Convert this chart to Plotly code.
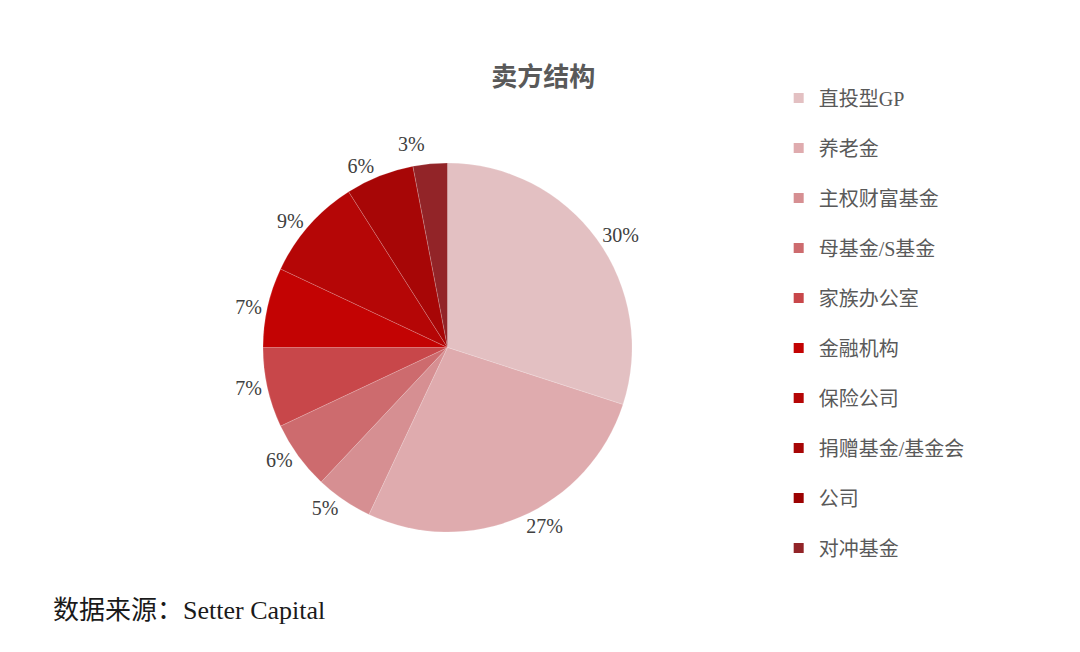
import plotly.graph_objects as go

# seller structure, share in percent (clockwise from 12 o'clock)
categories = ["直投型GP", "养老金", "主权财富基金", "母基金/S基金", "家族办公室",
              "金融机构", "保险公司", "捐赠基金/基金会", "公司", "对冲基金"]
shares = [30, 27, 5, 6, 7, 7, 9, 6, 0, 3]
colors = ["#e3c0c2", "#dfabae", "#d68f92", "#cd6b6e", "#c8474a",
          "#c30303", "#b50606", "#a70606", "#9c0202", "#922428"]

# only slices with a share are drawn; the legend keeps all categories
shown = [i for i, v in enumerate(shares) if v > 0]

fig = go.Figure()

fig.add_trace(go.Pie(
    labels=[categories[i] for i in shown],
    values=[shares[i] for i in shown],
    text=[f"{shares[i]}%" for i in shown],
    textinfo="text",
    textposition="outside",
    sort=False,
    direction="clockwise",
    marker=dict(colors=[colors[i] for i in shown],
                line=dict(color="rgba(255,255,255,0.35)", width=0.5)),
    outsidetextfont=dict(family="Liberation Serif", size=20, color="#404040"),
    domain=dict(x=[0.2361, 0.5778], y=[0.1963, 0.7623]),
    showlegend=False,
    hoverinfo="label+percent",
))

# legend entries drawn as dummy square markers
for name, c in zip(categories, colors):
    fig.add_trace(go.Scatter(
        x=[None], y=[None], mode="markers", name=name, legendgroup=name,
        marker=dict(symbol="square", size=10, color=c),
    ))

fig.update_layout(
    width=1080, height=652,
    margin=dict(l=0, r=0, t=0, b=0),
    paper_bgcolor="white", plot_bgcolor="white",
    title=dict(text="<b>卖方结构</b>", x=0.4956, xanchor="center", y=0.894, yanchor="middle",
               font=dict(family="Noto Sans CJK SC", size=26, color="#595959")),
    xaxis=dict(visible=False), yaxis=dict(visible=False),
    legend=dict(x=0.7136, xanchor="left", y=0.892, yanchor="top",
                font=dict(family="Liberation Serif, Noto Sans CJK SC", size=20, color="#595959"),
                tracegroupgap=21, itemclick=False),
    annotations=[dict(text="数据来源：Setter Capital", x=0.0398, xanchor="left", y=0.0753,
                      yanchor="middle", xref="paper", yref="paper", showarrow=False,
                      font=dict(family="Liberation Serif, Noto Sans CJK SC", size=26, color="#1a1a1a"))],
)

# the reference has no leader lines on the outside labels
hide_lines = "document.querySelectorAll('path.textline').forEach(function(p){p.style.display='none';});"
fig.write_html("out.html", post_script=hide_lines)
